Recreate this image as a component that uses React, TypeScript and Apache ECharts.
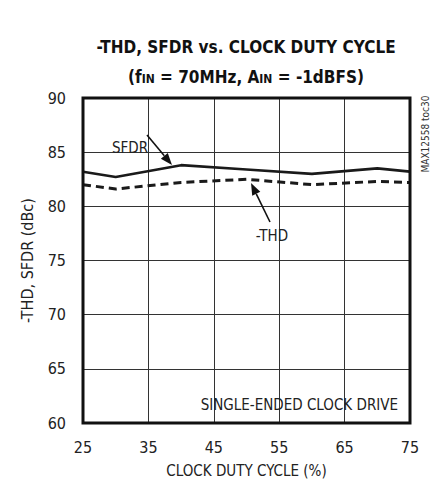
import React, { useEffect, useRef } from "react";
import * as echarts from "echarts";

const dutyCycle = [25, 30, 40, 50, 60, 70, 75];
const sfdr = [83.2, 82.7, 83.8, 83.4, 83.0, 83.5, 83.2];
const thd = [82.0, 81.6, 82.2, 82.5, 82.0, 82.3, 82.2];

const FONT = "'Liberation Sans Narrow', 'DejaVu Sans Condensed', 'Liberation Sans', sans-serif";

function arrow(x1: number, y1: number, x2: number, y2: number) {
  const dx = x2 - x1, dy = y2 - y1;
  const len = Math.sqrt(dx * dx + dy * dy);
  const ux = dx / len, uy = dy / len;
  const hl = 12, hw = 4.5;
  const bx = x2 - ux * hl, by = y2 - uy * hl;
  const px = -uy * hw, py = ux * hw;
  return [
    { type: "line", shape: { x1, y1, x2: bx, y2: by }, style: { stroke: "#111", lineWidth: 1.6 }, z: 10 },
    { type: "polygon", shape: { points: [[x2, y2], [bx + px, by + py], [bx - px, by - py]] }, style: { fill: "#111" }, z: 10 },
  ];
}

export default function App() {
  const ref = useRef<HTMLDivElement>(null);
  useEffect(() => {
    const chart = echarts.init(ref.current!, null, { renderer: "svg" });
    chart.setOption({
      animation: false,
      backgroundColor: "#fff",
      grid: { left: 83, top: 98, width: 327, height: 328, show: true, borderColor: "#111", borderWidth: 3, backgroundColor: "transparent", z: 5 },
      xAxis: {
        type: "value", min: 25, max: 75, interval: 10,
        name: "CLOCK DUTY CYCLE (%)", nameLocation: "middle", nameGap: 40,
        nameTextStyle: { fontFamily: FONT, fontSize: 15, color: "#222" },
        axisLine: { show: false }, axisTick: { show: false },
        axisLabel: { margin: 16, fontFamily: FONT, fontSize: 16, color: "#222" },
        splitLine: { show: true, lineStyle: { color: "#333", width: 1 } },
      },
      yAxis: {
        type: "value", min: 60, max: 90, interval: 5,
        name: "-THD, SFDR (dBc)", nameLocation: "middle", nameGap: 48, nameRotate: 90,
        nameTextStyle: { fontFamily: FONT, fontSize: 16, color: "#222" },
        axisLine: { show: false }, axisTick: { show: false },
        axisLabel: { margin: 17, fontFamily: FONT, fontSize: 16, color: "#222" },
        splitLine: { show: true, lineStyle: { color: "#333", width: 1 } },
      },
      series: [
        {
          name: "SFDR", type: "line", symbol: "none",
          data: dutyCycle.map((x, i) => [x, sfdr[i]]),
          lineStyle: { color: "#1a1a1a", width: 2.6 }, z: 3,
        },
        {
          name: "-THD", type: "line", symbol: "none",
          data: dutyCycle.map((x, i) => [x, thd[i]]),
          lineStyle: { color: "#1a1a1a", width: 3, type: [8, 5] }, z: 3,
        },
      ],
      graphic: [
        {
          type: "text", x: 246, y: 47,
          style: { text: "-THD, SFDR vs. CLOCK DUTY CYCLE", fontFamily: FONT, fontWeight: "bold", fontSize: 17, fill: "#111", align: "center", verticalAlign: "middle" },
        },
        {
          type: "text", x: 246, y: 75,
          style: {
            text: "{m|(f}{s|IN}{m| = 70MHz, A}{s|IN}{m| = -1dBFS)}",
            align: "center", verticalAlign: "middle",
            rich: {
              m: { fontFamily: FONT, fontWeight: "bold", fontSize: 17, fill: "#111", lineHeight: 20, verticalAlign: "bottom" },
              s: { fontFamily: FONT, fontWeight: "bold", fontSize: 12, fill: "#111", lineHeight: 15, verticalAlign: "bottom" },
            },
          },
        },
        {
          type: "text", x: 425, y: 134, rotation: Math.PI / 2,
          style: { text: "MAX12558 toc30", fontFamily: FONT, fontSize: 10, fill: "#333", align: "center", verticalAlign: "middle" },
        },
        {
          type: "text", x: 130, y: 148,
          style: { text: "SFDR", fontFamily: FONT, fontSize: 15, fill: "#222", align: "center", verticalAlign: "middle" }, z: 10,
        },
        {
          type: "text", x: 272, y: 236,
          style: { text: "-THD", fontFamily: FONT, fontSize: 15, fill: "#222", align: "center", verticalAlign: "middle" }, z: 10,
        },
        {
          type: "text", x: 398, y: 405,
          style: { text: "SINGLE-ENDED CLOCK DRIVE", fontFamily: FONT, fontSize: 15, fill: "#222", align: "right", verticalAlign: "middle" }, z: 10,
        },
        ...arrow(147, 135, 172, 165),
        ...arrow(270, 222, 251, 183),
      ],
    });
    return () => chart.dispose();
  }, []);
  return <div ref={ref} style={{ width: 438, height: 483, position: "absolute", left: 0, top: 0 }} />;
}
